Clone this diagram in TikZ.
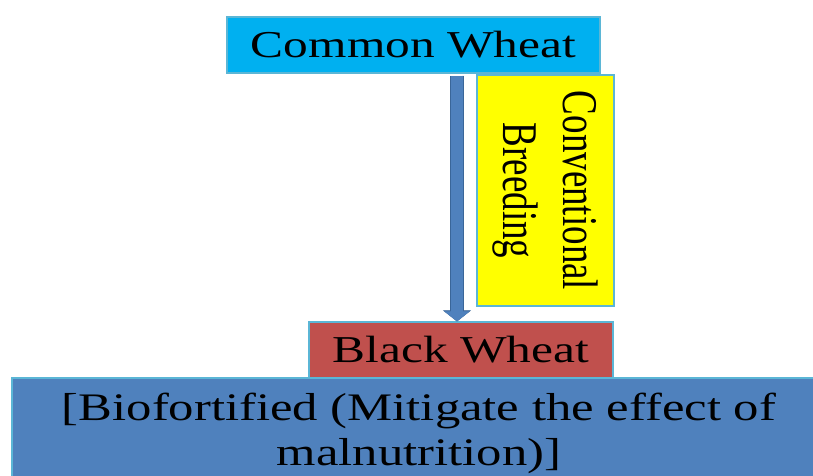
\documentclass[tikz,border=0pt]{standalone}
\usepackage{fontspec}
\setmainfont{Liberation Serif}
\newfontfamily\widefont[FakeStretch=1.3]{Liberation Serif}
\usetikzlibrary{arrows.meta,calc}
\definecolor{wheatcyan}{HTML}{00B0F0}
\definecolor{breedyellow}{HTML}{FFFF00}
\definecolor{blackred}{HTML}{C0504D}
\definecolor{biofill}{HTML}{4F81BD}
\definecolor{edge}{HTML}{5BB6D6}
\definecolor{arrowedge}{HTML}{3A6699}
\tikzset{
  box/.style={draw=edge, line width=1.2pt, inner sep=0pt, align=center},
  widelab/.style={font=\widefont\fontsize{38}{44}\selectfont},
  flow/.style={line width=12pt, draw=biofill,
    -{Triangle[length=10pt, width=25pt, line width=0.5pt]},
    preaction={draw=arrowedge, line width=14pt,
      -{Triangle[length=11pt, width=28pt, line width=0.5pt]}}},
}

\begin{document}
\begin{tikzpicture}[x=1pt, y=-1pt]
\useasboundingbox (0,0) rectangle (813,475);

\node[box, widelab, fill=wheatcyan, minimum width=373pt, minimum height=56pt] (cw) at (413.5,45) {Common Wheat};
\node[box, fill=breedyellow, rotate=-90, yscale=1.35, minimum width=231pt, minimum height=101.5pt,
  font=\fontsize{37}{44}\selectfont] (cb) at (545.5,190.5) {Conventional\\Breeding};
\node[box, widelab, fill=blackred, minimum width=304pt, minimum height=56pt] (bw) at (461,350) {Black Wheat};
\node[box, fill=biofill, minimum width=814pt, minimum height=111pt,
  font=\widefont\fontsize{39}{45}\selectfont] (bio) at (419,433.5) {[Biofortified (Mitigate the effect of\\malnutrition)]};

\draw[flow] ($(bw.north |- cw.south)+(-4,2)$) -- ($(bw.north)+(-4,0)$);

\end{tikzpicture}
\end{document}
